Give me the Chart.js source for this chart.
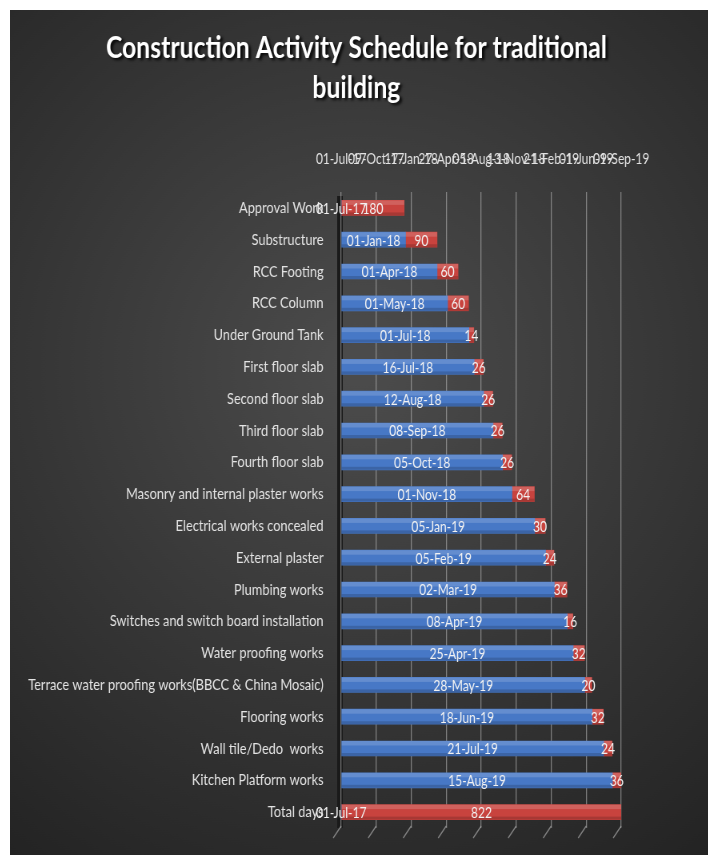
<!DOCTYPE html>
<html lang="en">
<head>
    <meta charset="UTF-8">
    <title>Construction Activity Schedule</title>
    <script src="https://cdn.jsdelivr.net/npm/chart.js"></script>
    <style>
        html, body { margin: 0; padding: 0; background: #ffffff; overflow: hidden; }
        /* the original picture is squeezed sideways, so draw wide and squeeze */
        #wrap {
            position: absolute; left: 10px; top: 10px;
            width: 873px; height: 845px;
            transform: scaleX(0.8); transform-origin: 0 0;
        }
    </style>
</head>
<body>
    <div id="wrap"><canvas id="schedule"></canvas></div>

    <script>
        // Chart data
        const activities = [
            'Approval Work', 'Substructure', 'RCC Footing', 'RCC Column', 'Under Ground Tank',
            'First floor slab', 'Second floor slab', 'Third floor slab', 'Fourth floor slab',
            'Masonry and internal plaster works', 'Electrical works concealed', 'External plaster',
            'Plumbing works', 'Switches and switch board installation', 'Water proofing works',
            'Terrace water proofing works(BBCC & China Mosaic)', 'Flooring works',
            'Wall tile/Dedo  works', 'Kitchen Platform works', 'Total days'
        ];
        const startDates = [
            '01-Jul-17', '01-Jan-18', '01-Apr-18', '01-May-18', '01-Jul-18',
            '16-Jul-18', '12-Aug-18', '08-Sep-18', '05-Oct-18',
            '01-Nov-18', '05-Jan-19', '05-Feb-19',
            '02-Mar-19', '08-Apr-19', '25-Apr-19',
            '28-May-19', '18-Jun-19',
            '21-Jul-19', '15-Aug-19', '01-Jul-17'
        ];
        const durations = [180, 90, 60, 60, 14, 26, 26, 26, 26, 64, 30, 24, 36, 16, 32, 20, 32, 24, 36, 822];
        const axisStart = '01-Jul-17';
        const axisStepDays = 100;
        const axisMaxDays = 800;

        const MONTHS = ['Jan','Feb','Mar','Apr','May','Jun','Jul','Aug','Sep','Oct','Nov','Dec'];
        const DAY_MS = 86400000;

        function parseDate(s) {
            const [d, m, y] = s.split('-');
            return Date.UTC(2000 + Number(y), MONTHS.indexOf(m), Number(d));
        }
        function formatDate(ms) {
            const dt = new Date(ms);
            const dd = String(dt.getUTCDate()).padStart(2, '0');
            return dd + '-' + MONTHS[dt.getUTCMonth()] + '-' + String(dt.getUTCFullYear()).slice(2);
        }

        const base = parseDate(axisStart);
        const startOffsets = startDates.map(s => Math.round((parseDate(s) - base) / DAY_MS));

        const FONT = "Lato, 'Open Sans', sans-serif";
        const BLUE = '#4778c6';
        const RED = '#c8433e';

        // dark radial background, title with shadow, 3D wall and floor
        const backdrop = {
            id: 'backdrop',
            beforeDraw(chart) {
                const { ctx, width, height } = chart;
                ctx.save();
                ctx.translate(width / 2, height * 0.42);
                ctx.scale(1.25, 1);
                const g = ctx.createRadialGradient(0, 0, 20, 0, 0, 620);
                g.addColorStop(0, '#4b4b4b');
                g.addColorStop(1, '#222222');
                ctx.fillStyle = g;
                ctx.fillRect(-width, -height, width * 2, height * 2);
                ctx.restore();

                ctx.save();
                ctx.font = 'bold 31px ' + FONT;
                ctx.textAlign = 'center';
                ctx.textBaseline = 'middle';
                ctx.shadowColor = 'rgba(0,0,0,0.85)';
                ctx.shadowOffsetX = 3;
                ctx.shadowOffsetY = 2;
                ctx.shadowBlur = 3;
                ctx.fillStyle = '#ffffff';
                ctx.fillText('Construction Activity Schedule for traditional', 433, 38);
                ctx.fillText('building', 433, 78);
                ctx.restore();

                const a = chart.chartArea;
                ctx.save();
                ctx.fillStyle = '#1a1a1a';
                ctx.fillRect(a.left - 5, a.top + 4, 7, a.bottom - a.top - 4);
                ctx.restore();
            },
            afterDraw(chart) {
                // floor edge ticks below each gridline
                const { ctx, chartArea: a } = chart;
                const xs = chart.scales.x;
                ctx.save();
                ctx.strokeStyle = 'rgba(190,190,190,0.6)';
                ctx.lineWidth = 1.3;
                xs.ticks.forEach(t => {
                    const x = xs.getPixelForValue(t.value);
                    ctx.beginPath();
                    ctx.moveTo(x, a.bottom - 2);
                    ctx.lineTo(x - 10, a.bottom + 10);
                    ctx.stroke();
                });
                ctx.restore();
            }
        };

        // bar shading and value labels
        const barLabels = {
            id: 'barLabels',
            afterDatasetsDraw(chart) {
                const { ctx, chartArea: a } = chart;
                ctx.save();
                chart.data.datasets.forEach((ds, di) => {
                    chart.getDatasetMeta(di).data.forEach(bar => {
                        const l = Math.max(Math.min(bar.x, bar.base), a.left);
                        const r = Math.min(Math.max(bar.x, bar.base), a.right);
                        if (r - l < 1) return;
                        const top = bar.y - bar.height / 2;
                        ctx.fillStyle = 'rgba(255,255,255,0.16)';
                        ctx.fillRect(l, top, r - l, bar.height * 0.3);
                        ctx.fillStyle = 'rgba(0,0,0,0.16)';
                        ctx.fillRect(l, bar.y + bar.height * 0.3, r - l, bar.height * 0.2);
                    });
                });
                ctx.restore();

                ctx.save();
                ctx.font = '15px ' + FONT;
                ctx.textAlign = 'center';
                ctx.textBaseline = 'middle';
                ctx.fillStyle = '#f2f2f2';
                chart.data.datasets.forEach((ds, di) => {
                    chart.getDatasetMeta(di).data.forEach((bar, i) => {
                        const l = Math.max(Math.min(bar.x, bar.base), a.left);
                        const r = Math.min(Math.max(bar.x, bar.base), a.right);
                        const text = di === 0 ? startDates[i] : String(durations[i]);
                        ctx.fillText(text, (l + r) / 2, bar.y + 1);
                    });
                });
                ctx.restore();
            }
        };

        new Chart(document.getElementById('schedule'), {
            type: 'bar',
            data: {
                labels: activities,
                datasets: [
                    { label: 'Start', data: startOffsets, backgroundColor: BLUE, barThickness: 15 },
                    { label: 'Duration', data: durations, backgroundColor: RED, barThickness: 15 }
                ]
            },
            options: {
                indexAxis: 'y',
                responsive: true,
                maintainAspectRatio: false,
                animation: false,
                layout: { padding: { top: 130, left: 0, right: 109, bottom: 27 } },
                plugins: {
                    legend: { display: false },
                    tooltip: { enabled: false }
                },
                scales: {
                    x: {
                        position: 'top',
                        stacked: true,
                        min: 0,
                        max: axisMaxDays,
                        afterFit(scale) { scale.height = 52; },
                        ticks: {
                            stepSize: axisStepDays,
                            autoSkip: false,
                            maxRotation: 0,
                            padding: 24,
                            color: '#e3e3e3',
                            font: { family: FONT, size: 15 },
                            callback: v => formatDate(base + v * DAY_MS)
                        },
                        grid: { color: 'rgba(190,190,190,0.55)', lineWidth: 1.3, drawTicks: false },
                        border: { display: false }
                    },
                    y: {
                        stacked: true,
                        afterFit(scale) { scale.width = 414; },
                        ticks: {
                            padding: 14,
                            color: '#e3e3e3',
                            font: { family: FONT, size: 16 }
                        },
                        grid: { display: false },
                        border: { display: false }
                    }
                }
            },
            plugins: [backdrop, barLabels]
        });
    </script>
</body>
</html>
